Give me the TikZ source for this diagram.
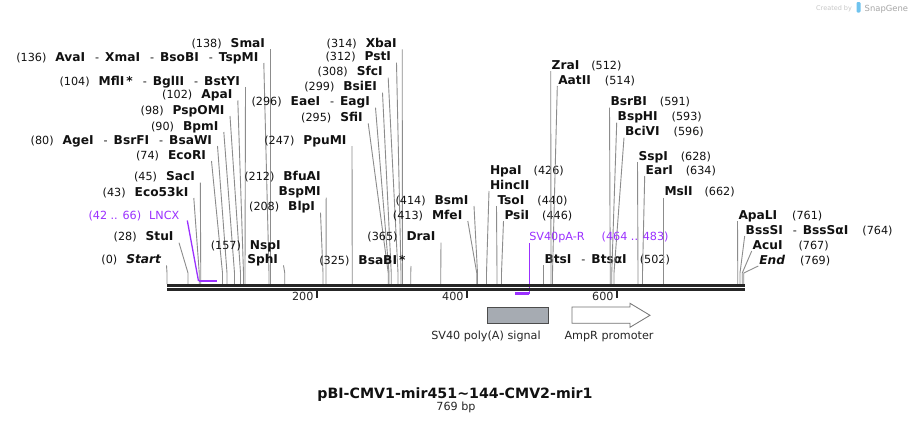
\documentclass[tikz,border=0pt]{standalone}
\usepackage{fontspec}
\setmainfont{DejaVu Sans}
\definecolor{leadc}{HTML}{8C8C8C}
\definecolor{seqc}{HTML}{262626}
\definecolor{purp}{HTML}{9B30FF}
\definecolor{featg}{HTML}{A6ABB2}
\definecolor{txtc}{HTML}{111111}
\definecolor{sglogo}{HTML}{6FC3EE}
\newcommand\nm[1]{{\fontsize{12.2}{14}\selectfont\bfseries #1}}
\newcommand\dsh{\hspace{10pt}-\hspace{6pt}}
\newcommand\gp{\hspace{9pt}}
\newcommand\LSite[5]{%
  \node[lbl,anchor=base east] (#1) at (#3,#4+4) {#5};
  \coordinate (#1s) at ({167+0.75*#2},284);
  \coordinate (#1b) at ({167+0.75*#2},273);
  \draw[lead] ([shift={(5.5pt,-2pt)}]#1.base east) -- (#1b) -- (#1s);}
\newcommand\RSite[5]{%
  \node[lbl,anchor=base west] (#1) at (#3,#4+4) {#5};
  \coordinate (#1s) at ({167+0.75*#2},284);
  \coordinate (#1b) at ({167+0.75*#2},273);
  \draw[lead] ([shift={(-1pt,-2pt)}]#1.base west) -- (#1b) -- (#1s);}
\newcommand\LLabel[4]{\node[lbl,anchor=base east] (#1) at (#2,#3+4) {#4};}
\newcommand\RLabel[4]{\node[lbl,anchor=base west] (#1) at (#2,#3+4) {#4};}
\begin{document}
\begin{tikzpicture}[x=1pt,y=-1pt,
  lbl/.style={inner sep=0pt,outer sep=0pt,text=txtc,font=\fontsize{11.2}{13}\selectfont},
  plbl/.style={lbl,text=purp},
  lead/.style={draw=leadc,line width=0.9pt},
  purplead/.style={draw=purp,line width=1.3pt},
  purpbar/.style={draw=purp,line width=2.2pt},
  seq/.style={draw=seqc,line width=2.8pt},
  tick/.style={draw=seqc,line width=2pt}]
\useasboundingbox[fill=white] (0,0) rectangle (913,423);

% ---------- left labels ----------
\LSite{start}{0}{161}{259.3}{(0)\gp\nm{\itshape Start}}
\LSite{stu}{28}{173.5}{236.7}{(28)\gp\nm{StuI}}
\LSite{eco53}{43}{188.3}{192}{(43)\gp\nm{Eco53kI}}
\LSite{sac}{45}{194.8}{176.7}{(45)\gp\nm{SacI}}
\LSite{ecori}{74}{206}{155}{(74)\gp\nm{EcoRI}}
\LSite{age}{80}{212}{140}{(80)\gp\nm{AgeI}\dsh\nm{BsrFI}\dsh\nm{BsaWI}}
\LSite{bpm}{90}{218.3}{126}{(90)\gp\nm{BpmI}}
\LSite{psp}{98}{224.5}{110}{(98)\gp\nm{PspOMI}}
\LSite{apa}{102}{232.3}{94.5}{(102)\gp\nm{ApaI}}
\LSite{mfl}{104}{240}{81}{(104)\gp\nm{MflI\,*}\dsh\nm{BglII}\dsh\nm{BstYI}}
\LSite{ava}{136}{258.3}{57}{(136)\gp\nm{AvaI}\dsh\nm{XmaI}\dsh\nm{BsoBI}\dsh\nm{TspMI}}
\LSite{sma}{138}{265}{43}{(138)\gp\nm{SmaI}}
\LLabel{nsp}{280.7}{245}{(157)\gp\nm{NspI}}
\LSite{sph}{157}{278}{259.3}{\nm{SphI}}
\LLabel{bfu}{320.7}{176.7}{(212)\gp\nm{BfuAI}}
\LSite{bspm}{212}{320.7}{191.7}{\nm{BspMI}}
\LSite{blp}{208}{315}{206.7}{(208)\gp\nm{BlpI}}
\LSite{ppu}{247}{346.5}{140}{(247)\gp\nm{PpuMI}}
\LSite{sfi}{295}{362.7}{117.3}{(295)\gp\nm{SfiI}}
\LSite{eae}{296}{370}{101.7}{(296)\gp\nm{EaeI}\dsh\nm{EagI}}
\LSite{bsie}{299}{377}{86.7}{(299)\gp\nm{BsiEI}}
\LSite{sfc}{308}{382.7}{71.7}{(308)\gp\nm{SfcI}}
\LSite{pst}{312}{391}{56.7}{(312)\gp\nm{PstI}}
\LSite{xba}{314}{396.7}{43.3}{(314)\gp\nm{XbaI}}
\LSite{bsab}{325}{405.5}{260}{(325)\gp\nm{BsaBI\,*}}
\LSite{dra}{365}{435.5}{236.7}{(365)\gp\nm{DraI}}
\LSite{mfe}{413}{462.3}{215}{(413)\gp\nm{MfeI}}
\LSite{bsm}{414}{468.5}{200}{(414)\gp\nm{BsmI}}

% ---------- right labels ----------
\RLabel{hpa}{490}{170.7}{\nm{HpaI}\hspace{12pt}(426)}
\RSite{hinc}{426}{490}{185}{\nm{HincII}}
\RSite{tso}{440}{497.5}{200}{\nm{TsoI}\hspace{13pt}(440)}
\RSite{psi}{446}{504.5}{215}{\nm{PsiI}\hspace{13pt}(446)}
\RSite{bts}{502}{544.5}{259.3}{\nm{BtsI}\dsh\nm{BtsαI}\hspace{13pt}(502)}
\RSite{zra}{512}{551.7}{65}{\nm{ZraI}\hspace{12pt}(512)}
\RSite{aat}{514}{558.3}{80}{\nm{AatII}\hspace{14pt}(514)}
\RSite{bsrb}{591}{610.5}{101.7}{\nm{BsrBI}\hspace{13pt}(591)}
\RSite{bsph}{593}{617.7}{116.7}{\nm{BspHI}\hspace{14pt}(593)}
\RSite{bciv}{596}{625}{131.7}{\nm{BciVI}\hspace{14pt}(596)}
\RSite{ssp}{628}{638.5}{156}{\nm{SspI}\hspace{13pt}(628)}
\RSite{ear}{634}{645.7}{170}{\nm{EarI}\hspace{13pt}(634)}
\RSite{msl}{662}{664.5}{191.7}{\nm{MslI}\hspace{12pt}(662)}
\RSite{apal}{761}{738.5}{215}{\nm{ApaLI}\hspace{15pt}(761)}
\RSite{bsss}{764}{745.7}{230}{\nm{BssSI}\dsh\nm{BssSαI}\hspace{14pt}(764)}
\RSite{acu}{767}{752.7}{245}{\nm{AcuI}\hspace{16pt}(767)}
\RSite{endl}{769}{759.3}{260}{\nm{\itshape End}\hspace{15pt}(769)}

% ---------- primers (purple) ----------
\node[plbl,anchor=base east] (lncx) at (179.3,219) {(42 .. 66)\hspace{8pt}LNCX};
\coordinate (lncxa) at (198.5,281);
\coordinate (lncxb) at (216.5,281);
\draw[purplead] ([shift={(8pt,-1.5pt)}]lncx.base east) -- (lncxa);
\draw[purpbar] (lncxa) -- (lncxb);
\node[plbl,anchor=base west] (svr) at (529.3,240.7) {SV40pA-R\hspace{17pt}(464 .. 483)};
\coordinate (svra) at (529.3,293.5);
\coordinate (svrb) at (515,293.5);
\draw[purplead] ([shift={(0pt,-2.5pt)}]svr.base west) -- (svra);
\draw[purpbar] (svra) -- (svrb);

% ---------- sequence ----------
\coordinate (s0) at (167,285.3);
\coordinate (s1) at (745,285.3);
\coordinate (t0) at (167,289.3);
\coordinate (t1) at (745,289.3);
\draw[seq] (s0) -- (s1);
\draw[seq] (t0) -- (t1);
\foreach \v/\xx in {200/317,400/467,600/617}{
  \coordinate (k\v) at (\xx,291);
  \coordinate (kk\v) at (\xx,297.5);
  \draw[tick] (k\v) -- (kk\v);
  \node[lbl,anchor=base east,text=seqc] (tl\v) at (\xx-3.5,300.7) {\v};
}

% ---------- features ----------
\node[draw=black!70,fill=featg,line width=0.8pt,minimum width=61pt,minimum height=16pt,inner sep=0pt,anchor=north west] (sv40) at (487,307) {};
\node[lbl,anchor=base,text=seqc] (sv40l) at (486,339.5) {SV40 poly(A) signal};
\draw[draw=black!55,fill=white,line width=0.8pt] (572,307) -- (630,307) -- (630,303.3) -- (650,315.3) -- (630,327.3) -- (630,323.3) -- (572,323.3) -- cycle;
\node[lbl,anchor=base,text=seqc] (ampl) at (609,339.5) {AmpR promoter};

% ---------- title ----------
\node[inner sep=0pt,anchor=base,text=txtc,font=\fontsize{14.2}{16}\selectfont\bfseries] (title) at (455,398) {pBI-CMV1-mir451\char"007E 144-CMV2-mir1};
\node[lbl,anchor=base,text=seqc] (bp) at (456,410.5) {769 bp};

% ---------- watermark ----------
\node[inner sep=0pt,anchor=base west,text=black!22,font=\fontsize{6.5}{8}\selectfont] (cb) at (816,10) {Created by};
\fill[color=sglogo,rounded corners=1.2pt] (856.5,2) rectangle (860.5,12.5);
\node[inner sep=0pt,anchor=base west,text=black!35,font=\fontsize{8.4}{10}\selectfont] (sg) at (864.5,11) {SnapGene};
\end{tikzpicture}
\end{document}
